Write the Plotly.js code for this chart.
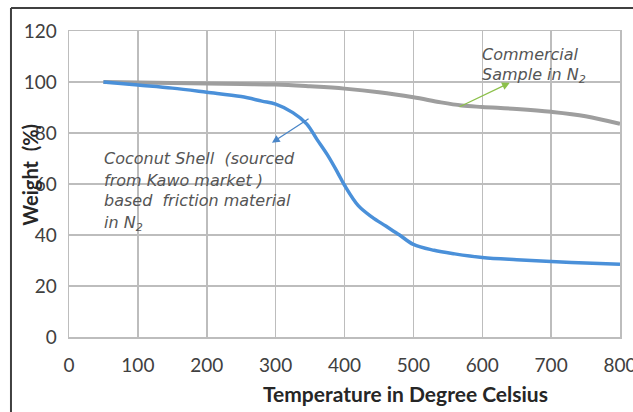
<!DOCTYPE html>
<html>
<head>
<meta charset="utf-8">
<script src="https://cdn.plot.ly/plotly-3.0.1.min.js"></script>
<style>html,body{margin:0;padding:0;background:#fff;}#chart{width:633px;height:412px;}</style>
</head>
<body>
<div id="chart"></div>
<script>
// Temperature (°C) and weight (%)
const commercialTemp = [50,100,150,200,250,300,350,400,450,500,540,570,600,650,700,750,800];
const commercialWeight = [100,99.8,99.6,99.4,99.2,99,98.3,97.4,96,94,92,90.8,90.2,89.4,88.3,86.6,83.6];
const coconutTemp = [50,100,150,200,250,280,300,325,345,360,375,390,400,420,440,460,480,500,530,560,600,650,700,750,800];
const coconutWeight = [100,98.8,97.6,96,94.3,92.5,91.3,88,83.6,77.5,71.5,64.5,59.5,51.5,47,43.5,40,36.3,34,32.6,31.2,30.3,29.6,29,28.5];
const xTicks = [0,100,200,300,400,500,600,700,800];
const yTicks = [0,20,40,60,80,100,120];
const coconutLabel = ['Coconut Shell  (sourced', 'from Kawo market )', 'based  friction material', 'in N<sub>2</sub>'];
const commercialLabel = ['Commercial', 'Sample in N<sub>2</sub>'];

const traces = [
  {x: commercialTemp, y: commercialWeight, mode: 'lines', line: {color: '#9e9e9e', width: 4, shape: 'spline'}, hoverinfo: 'skip'},
  {x: coconutTemp, y: coconutWeight, mode: 'lines', line: {color: '#4a90d9', width: 3.5, shape: 'spline'}, hoverinfo: 'skip'}
];

const annoFont = {family: 'DejaVu Sans, sans-serif', size: 16, color: '#555555'};
const tickFont = {family: 'Lato, Open Sans, sans-serif', size: 19, color: '#404040'};
const titleFont = {family: 'Lato, Open Sans, sans-serif', size: 21, color: '#262626'};

const coconutY = [70.1, 61.5, 53.7, 44.7];
const commercialY = [110.6, 102.4];
const textAnnos = [];
coconutLabel.forEach((t, i) => textAnnos.push({xref: 'x', yref: 'y', x: 48, y: coconutY[i], xanchor: 'left', yanchor: 'middle',
  showarrow: false, text: '<i>' + t + '</i>', font: annoFont}));
commercialLabel.forEach((t, i) => textAnnos.push({xref: 'x', yref: 'y', x: 597, y: commercialY[i], xanchor: 'left', yanchor: 'middle',
  showarrow: false, text: '<i>' + t + '</i>', font: annoFont}));

const layout = {
  width: 633, height: 412,
  margin: {l: 69, r: 13, t: 31, b: 75},
  paper_bgcolor: '#ffffff', plot_bgcolor: '#ffffff',
  showlegend: false,
  xaxis: {range: [0, 800], tickvals: xTicks, ticktext: xTicks.map(String), showgrid: true, gridcolor: '#bdbdbd', gridwidth: 1.5,
          showline: true, linecolor: '#bdbdbd', linewidth: 1.5, mirror: true, zeroline: false,
          ticks: 'outside', ticklen: 11, tickcolor: 'rgba(0,0,0,0)', ticklabeloverflow: 'allow',
          tickfont: tickFont, fixedrange: true},
  yaxis: {range: [0, 120], tickvals: yTicks, ticktext: yTicks.map(String), showgrid: true, gridcolor: '#bdbdbd', gridwidth: 1.5,
          showline: true, linecolor: '#bdbdbd', linewidth: 1.5, mirror: true, zeroline: false,
          ticks: 'outside', ticklen: 7, tickcolor: 'rgba(0,0,0,0)', ticklabeloverflow: 'allow',
          tickfont: tickFont, fixedrange: true},
  shapes: [
    {type: 'line', xref: 'paper', yref: 'paper', x0: -0.1053, x1: -0.1053, y0: 1.075, y1: -0.3, line: {color: '#404040', width: 2}},
    {type: 'line', xref: 'paper', yref: 'paper', x0: -0.1053, x1: 1.05, y0: 1.075, y1: 1.075, line: {color: '#404040', width: 2}}
  ],
  annotations: [
    {xref: 'paper', yref: 'paper', x: 0.61, y: -0.185, text: '<b>Temperature in Degree Celsius</b>', showarrow: false,
     font: titleFont, xanchor: 'center', yanchor: 'middle'},
    {xref: 'paper', yref: 'paper', x: -0.071, y: 0.53, text: '<b>Weight  (%)</b>', showarrow: false, textangle: -90,
     font: {family: 'Lato, Open Sans, sans-serif', size: 20, color: '#262626'}, xanchor: 'center', yanchor: 'middle'},
    ...textAnnos,
    {xref: 'x', yref: 'y', axref: 'x', ayref: 'y', x: 294.7, y: 76.2, ax: 350, ay: 86, text: '', showarrow: true,
     arrowhead: 2, arrowsize: 1.2, arrowwidth: 1.3, arrowcolor: '#4a86c8'},
    {xref: 'x', yref: 'y', axref: 'x', ayref: 'y', x: 640, y: 99.7, ax: 565, ay: 90, text: '', showarrow: true,
     arrowhead: 2, arrowsize: 1.2, arrowwidth: 1.3, arrowcolor: '#8cc04a'}
  ]
};
Plotly.newPlot('chart', traces, layout, {displayModeBar: false, staticPlot: true});
</script>
</body>
</html>
